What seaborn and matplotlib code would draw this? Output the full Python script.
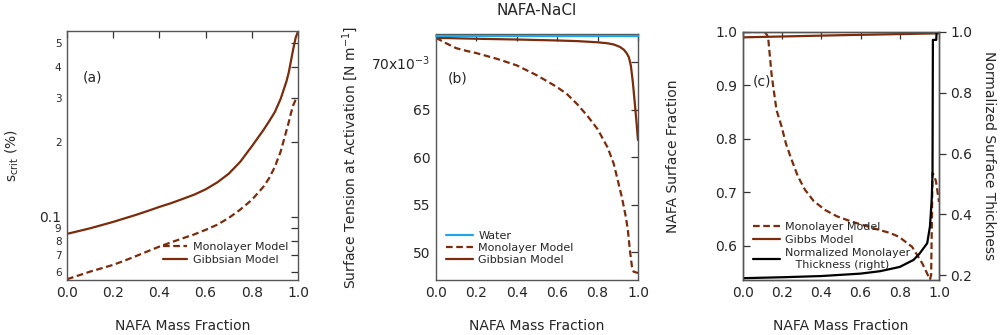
import numpy as np
import pandas as pd
import matplotlib
matplotlib.use("Agg")
import matplotlib.pyplot as plt
import matplotlib.ticker as mticker
import seaborn as sns

# ---------------- data ----------------
# panel (a): critical supersaturation
xa_gibbs = [0.0, 0.05, 0.1, 0.15, 0.2, 0.25, 0.3, 0.35, 0.4, 0.45, 0.5, 0.55, 0.6, 0.65, 0.7,
            0.75, 0.8, 0.85, 0.875, 0.9, 0.925, 0.95, 0.96, 0.97, 0.98, 0.99, 1.0]
sa_gibbs = [0.0855, 0.0877, 0.090, 0.0927, 0.0955, 0.0987, 0.102, 0.1057, 0.1097, 0.1135,
            0.118, 0.1228, 0.129, 0.1375, 0.149, 0.1665, 0.192, 0.223, 0.242, 0.264, 0.298,
            0.35, 0.38, 0.425, 0.475, 0.525, 0.555]
xa_mono = [0.0, 0.05, 0.1, 0.15, 0.2, 0.25, 0.3, 0.35, 0.4, 0.45, 0.5, 0.55, 0.6, 0.65, 0.7,
           0.75, 0.8, 0.85, 0.875, 0.9, 0.925, 0.95, 0.96, 0.97, 0.98, 0.99, 1.0]
sa_mono = [0.0562, 0.0582, 0.0603, 0.0622, 0.0642, 0.0668, 0.0697, 0.0728, 0.076, 0.079,
           0.082, 0.085, 0.0887, 0.093, 0.099, 0.107, 0.117, 0.132, 0.143, 0.159, 0.183,
           0.222, 0.24, 0.262, 0.282, 0.295, 0.302]

# panel (b): surface tension (x 1e-3 N/m)
xb_water = [0.0, 1.0]
sb_water = [72.75, 72.75]
xb_mono = [0.0, 0.05, 0.1, 0.15, 0.2, 0.3, 0.4, 0.5, 0.6, 0.65, 0.7, 0.75, 0.8, 0.85, 0.88,
           0.9, 0.92, 0.94, 0.95, 0.96, 0.97, 0.978, 1.0]
sb_mono = [72.55, 71.98, 71.46, 71.18, 70.94, 70.35, 69.65, 68.6, 67.36, 66.6, 65.55, 64.33,
           62.94, 61.0, 59.3, 57.55, 55.8, 53.7, 52.3, 50.2, 48.5, 47.95, 47.8]
xb_gibbs = [0.0, 0.2, 0.4, 0.6, 0.7, 0.8, 0.85, 0.88, 0.91, 0.93, 0.945, 0.955, 0.965, 0.975,
            0.985, 0.993, 1.0]
sb_gibbs = [72.55, 72.45, 72.37, 72.27, 72.2, 72.08, 71.97, 71.85, 71.6, 71.3, 70.9, 70.5,
            69.6, 67.8, 65.5, 63.6, 61.8]

# panel (c): surface fraction & normalized thickness
xc_mono = [0.0, 0.05, 0.1, 0.112, 0.128, 0.146, 0.163, 0.171, 0.197, 0.22, 0.248, 0.28,
           0.316, 0.36, 0.419, 0.48, 0.556, 0.62, 0.692, 0.75, 0.795, 0.863, 0.915, 0.954,
           0.96, 0.964, 0.967, 0.975, 0.985, 1.0]
fc_mono = [1.0, 1.0, 1.0, 1.0, 0.991, 0.92, 0.875, 0.854, 0.823, 0.79, 0.761, 0.73,
           0.705, 0.684, 0.667, 0.655, 0.645, 0.638, 0.630, 0.624, 0.617, 0.598, 0.567,
           0.537, 0.545, 0.65, 0.736, 0.732, 0.72, 0.682]
xc_gibbs = [0.0, 0.5, 1.0]
fc_gibbs = [0.990, 0.994, 0.9975]
xc_thick = [0.0, 0.2, 0.4, 0.6, 0.7, 0.8, 0.87, 0.9, 0.94, 0.954, 0.963, 0.967, 0.969,
            0.986, 0.988, 1.0]
tc_thick = [0.19, 0.193, 0.197, 0.205, 0.213, 0.227, 0.25, 0.27, 0.305, 0.36, 0.45, 0.535,
            0.974, 0.974, 1.0, 1.0]

# ---------------- style ----------------
sns.set_theme(style="white")
plt.rcParams["font.family"] = ["DejaVu Sans"]
plt.rcParams["axes.edgecolor"] = "#555555"
plt.rcParams["axes.linewidth"] = 1.0

BROWN = "#7a2c0c"
BLUE = "#1ea9e6"
DASH = (3, 1.6)
LW = 1.6
LEG_FS = 8

fig = plt.figure(figsize=(10.05, 3.35), dpi=100)
axa = fig.add_axes([0.0667, 0.1642, 0.2298, 0.7433])
axb = fig.add_axes([0.4338, 0.1642, 0.2010, 0.7343])
axc = fig.add_axes([0.7393, 0.1642, 0.1950, 0.7403])

def style_ax(ax):
    ax.tick_params(axis="both", which="both", direction="in", top=True, right=True,
                   labelsize=10, color="#333333", length=5, width=0.9, pad=4)
    ax.tick_params(axis="both", which="minor", length=3)
    ax.set_xlim(0, 1.0)
    ax.set_xticks([0, 0.2, 0.4, 0.6, 0.8, 1.0])
    ax.xaxis.set_major_formatter(mticker.FormatStrFormatter("%.1f"))
    ax.set_xlabel("NAFA Mass Fraction", fontsize=10, labelpad=14)
    for s in ax.spines.values():
        s.set_visible(True)

# ---- panel a ----
sns.lineplot(x=xa_mono, y=sa_mono, ax=axa, color=BROWN, lw=LW,
             linestyle=(0, DASH), label="Monolayer Model")
sns.lineplot(x=xa_gibbs, y=sa_gibbs, ax=axa, color=BROWN, lw=LW, label="Gibbsian Model")
axa.set_yscale("log")
axa.set_ylim(0.0558, 0.558)
style_ax(axa)
axa.yaxis.set_major_locator(mticker.FixedLocator([0.1]))
axa.yaxis.set_major_formatter(mticker.FixedFormatter(["0.1"]))
minor_a = [0.06, 0.07, 0.08, 0.09, 0.2, 0.3, 0.4, 0.5]
axa.yaxis.set_minor_locator(mticker.FixedLocator(minor_a))
axa.yaxis.set_minor_formatter(mticker.FixedFormatter(["6", "7", "8", "9", "2", "3", "4", "5"]))
axa.tick_params(axis="y", which="minor", labelsize=7.5, length=5)
axa.set_ylabel("s$_{\\mathregular{crit}}$ (%)", fontsize=10)
axa.yaxis.set_label_coords(-0.2, 0.5)
axa.text(0.07, 0.35, "(a)", fontsize=10, transform=axa.transData)
axa.legend(loc="lower right", bbox_to_anchor=(1.0, 0.02), frameon=False, fontsize=LEG_FS,
           handlelength=2.2, handletextpad=0.5, labelspacing=0.3)

# ---- panel b ----
sns.lineplot(x=xb_water, y=sb_water, ax=axb, color=BLUE, lw=LW, label="Water", zorder=5,
             clip_on=False)
sns.lineplot(x=xb_mono, y=sb_mono, ax=axb, color=BROWN, lw=LW, linestyle=(0, DASH),
             label="Monolayer Model")
sns.lineplot(x=xb_gibbs, y=sb_gibbs, ax=axb, color=BROWN, lw=LW, label="Gibbsian Model")
axb.set_ylim(47.07, 72.95)
style_ax(axb)
axb.set_yticks([50, 55, 60, 65, 70])
axb.set_yticklabels(["50", "55", "60", "65", "70x10$^{\\mathregular{-3}}$"])
axb.set_ylabel("Surface Tension at Activation [N m$^{\\mathregular{-1}}$]", fontsize=10,
               labelpad=8)
axb.set_title("NAFA-NaCl", fontsize=11, pad=14)
axb.text(0.06, 67.8, "(b)", fontsize=10)
axb.legend(loc="lower left", bbox_to_anchor=(0.0, 0.02), frameon=False, fontsize=LEG_FS,
           handlelength=2.4, handletextpad=0.5, labelspacing=0.2)

# ---- panel c ----
axc2 = axc.twinx()
sns.lineplot(x=xc_mono, y=fc_mono, ax=axc, color=BROWN, lw=LW, linestyle=(0, DASH),
             label="Monolayer Model", legend=False)
sns.lineplot(x=xc_gibbs, y=fc_gibbs, ax=axc, color=BROWN, lw=LW, label="Gibbs Model",
             legend=False)
sns.lineplot(x=xc_thick, y=tc_thick, ax=axc2, color="black", lw=LW,
             label="Normalized Monolayer\n   Thickness (right)", legend=False)
axc.set_ylim(0.536, 1.0)
axc2.set_ylim(0.184, 1.0)
style_ax(axc)
axc.tick_params(axis="y", right=False)
axc.set_yticks([0.6, 0.7, 0.8, 0.9, 1.0])
axc.yaxis.set_major_formatter(mticker.FormatStrFormatter("%.1f"))
axc.set_ylabel("NAFA Surface Fraction", fontsize=10)
axc.yaxis.set_label_coords(-0.32, 0.5)
axc2.set_yticks([0.2, 0.4, 0.6, 0.8, 1.0])
axc2.yaxis.set_major_formatter(mticker.FormatStrFormatter("%.1f"))
axc2.tick_params(axis="y", direction="out", labelsize=10, color="#333333", length=5,
                 width=0.9, pad=3)
axc2.set_ylabel("Normalized Surface Thickness", fontsize=10, rotation=270, va="center")
axc2.yaxis.set_label_coords(1.255, 0.5)
axc2.grid(False)
axc.text(0.05, 0.9, "(c)", fontsize=10)
h1, lab1 = axc.get_legend_handles_labels()
h2, lab2 = axc2.get_legend_handles_labels()
axc2.legend(h1 + h2, lab1 + lab2, loc="lower left", bbox_to_anchor=(0.0, 0.0),
            frameon=False, fontsize=LEG_FS, handlelength=2.4, handletextpad=0.5,
            labelspacing=0.3)

for ax in (axa, axb, axc, axc2):
    ax.grid(False)

fig.savefig("out.png", dpi=100)
